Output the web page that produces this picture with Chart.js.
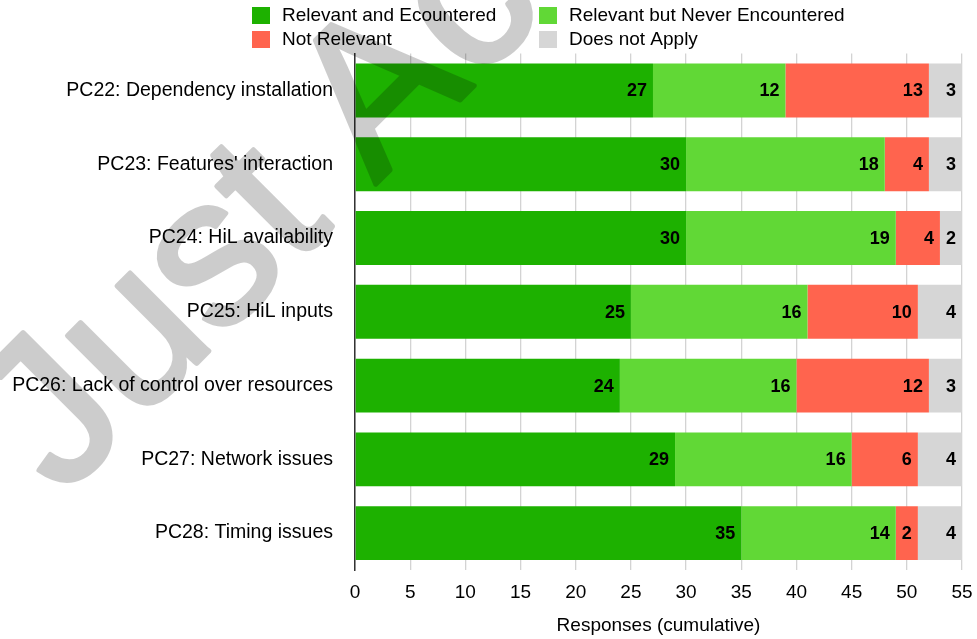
<!DOCTYPE html>
<html>
<head>
<meta charset="utf-8">
<script src="https://cdn.jsdelivr.net/npm/chart.js@4"></script>
<style>
  html, body { margin: 0; padding: 0; background: #fff; }
  #wrap { width: 977px; height: 639px; }
</style>
</head>
<body>
<div id="wrap"><canvas id="responses-chart" width="977" height="639"></canvas></div>
<script>
const categories = [
  'PC22: Dependency installation',
  "PC23: Features' interaction",
  'PC24: HiL availability',
  'PC25: HiL inputs',
  'PC26: Lack of control over resources',
  'PC27: Network issues',
  'PC28: Timing issues'
];
const relevantEncountered = [27, 30, 30, 25, 24, 29, 35];
const relevantNever = [12, 18, 19, 16, 16, 16, 14];
const notRelevant = [13, 4, 4, 10, 12, 6, 2];
const doesNotApply = [3, 3, 2, 4, 3, 4, 4];
const seriesNames = ['Relevant and Ecountered', 'Relevant but Never Encountered', 'Not Relevant', 'Does not Apply'];
const seriesColors = ['#1DB100', '#61D836', '#FF644E', '#D6D6D6'];
const xMax = 55;
const xStep = 5;

const fontFamily = '"Liberation Sans", Arial, Helvetica, sans-serif';

// value labels, right aligned at the end of each segment
const barLabels = {
  id: 'barLabels',
  afterDatasetsDraw(chart) {
    const ctx = chart.ctx;
    ctx.save();
    ctx.font = 'bold 18px ' + fontFamily;
    ctx.fillStyle = '#000';
    ctx.textAlign = 'right';
    ctx.textBaseline = 'middle';
    chart.data.datasets.forEach((ds, i) => {
      chart.getDatasetMeta(i).data.forEach((bar, j) => {
        ctx.fillText(ds.data[j], bar.x - 6, bar.y + 1);
      });
    });
    ctx.restore();
  }
};

// two column legend on top
const gridLegend = {
  id: 'gridLegend',
  afterDraw(chart) {
    const ctx = chart.ctx;
    ctx.save();
    ctx.font = '19px ' + fontFamily;
    ctx.textBaseline = 'middle';
    ctx.textAlign = 'left';
    chart.data.datasets.forEach((ds, i) => {
      const x = 252 + (i % 2) * 287;
      const y = 7 + Math.floor(i / 2) * 24;
      ctx.fillStyle = ds.backgroundColor;
      ctx.fillRect(x, y, 18, 17);
      ctx.fillStyle = '#000';
      ctx.fillText(ds.label, x + 30, y + 9);
    });
    ctx.restore();
  }
};

// "Just Accepted" stamp over the figure
// drawn opaque on a scratch canvas first so fill + outline don't double up
const stamp = {
  id: 'stamp',
  afterDraw(chart) {
    const off = document.createElement('canvas');
    off.width = chart.width;
    off.height = chart.height;
    const o = off.getContext('2d');
    o.translate(62, 498);
    o.rotate(-45 * Math.PI / 180);
    o.font = '210px ' + fontFamily;
    o.fillStyle = '#000';
    o.strokeStyle = '#000';
    o.lineWidth = 5;
    o.lineJoin = 'round';
    o.fillText('Just Accepted', 0, 0);
    o.strokeText('Just Accepted', 0, 0);

    const ctx = chart.ctx;
    ctx.save();
    ctx.globalAlpha = 0.2;
    ctx.drawImage(off, 0, 0);
    ctx.restore();
  }
};

const datasets = [relevantEncountered, relevantNever, notRelevant, doesNotApply].map((values, i) => ({
  label: seriesNames[i],
  data: values,
  backgroundColor: seriesColors[i],
  borderWidth: 0,
  barPercentage: 0.73,
  categoryPercentage: 1
}));

const responsesChart = new Chart(document.getElementById('responses-chart'), {
  type: 'bar',
  data: { labels: categories, datasets: datasets },
  options: {
    indexAxis: 'y',
    responsive: false,
    animation: false,
    layout: { padding: { top: 53.6, right: 15, bottom: 0, left: 0 } },
    scales: {
      x: {
        stacked: true,
        min: 0,
        max: xMax,
        afterFit: (scale) => {
          scale.height = 69;
          scale.paddingLeft = 0;
          scale.paddingRight = 0;
        },
        ticks: {
          stepSize: xStep,
          color: '#000',
          padding: 11,
          font: { size: 19, family: fontFamily }
        },
        grid: { color: '#d3d3d3', lineWidth: 1.3, drawTicks: false },
        border: { display: false },
        title: {
          display: true,
          text: 'Responses (cumulative)',
          color: '#000',
          padding: { top: 0, bottom: 2 },
          font: { size: 19, family: fontFamily }
        }
      },
      y: {
        stacked: true,
        afterFit: (scale) => { scale.width = 355; },
        ticks: {
          color: '#000',
          padding: 22,
          font: { size: 19.5, family: fontFamily }
        },
        grid: { display: false, drawTicks: false },
        border: { display: true, color: '#333', width: 1.5 }
      }
    },
    plugins: {
      legend: { display: false },
      tooltip: { enabled: false }
    }
  },
  plugins: [barLabels, gridLegend, stamp]
});
</script>
</body>
</html>
